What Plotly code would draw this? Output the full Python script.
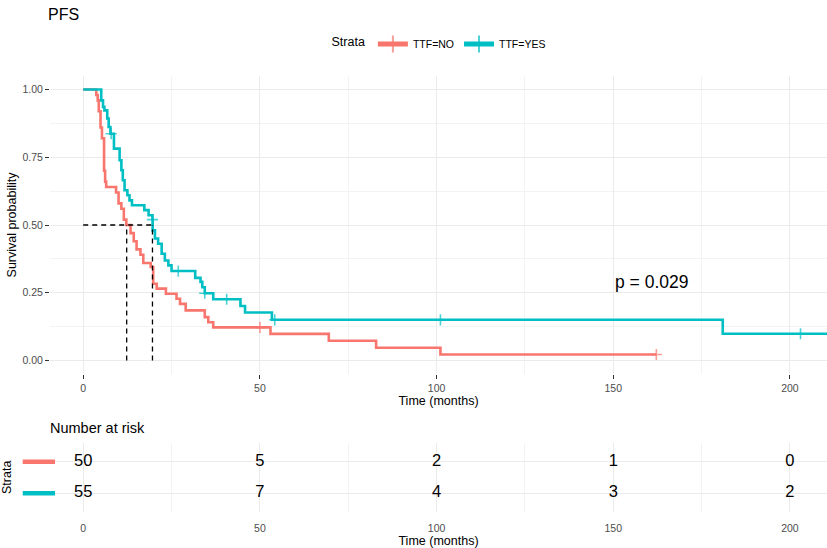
import plotly.graph_objects as go

# Kaplan-Meier curves (time in months, survival after each step)
no_time = [0, 3.7, 4.1, 4.4, 4.9, 5.3, 5.9, 6.2, 6.5, 9.3, 10.0, 10.8, 11.5, 12.2,
           13.4, 14.3, 15.1, 16.2, 17.0, 19.1, 19.8, 20.8, 23.4, 26.4, 27.4, 29.0,
           34.4, 35.4, 36.8, 50.0, 53.0, 69.5, 82.9, 101.1, 162.2]
no_surv = [1.0, 0.98, 0.96, 0.92, 0.86, 0.82, 0.70, 0.66, 0.64, 0.62, 0.58, 0.56, 0.52, 0.50,
           0.47, 0.44, 0.41, 0.39, 0.36, 0.345, 0.283, 0.265, 0.246, 0.228, 0.209, 0.185,
           0.16, 0.141, 0.122, 0.122, 0.098, 0.073, 0.047, 0.022, 0.022]
no_censor = [50.0, 162.2]

yes_time = [0, 5.1, 5.6, 6.0, 6.8, 7.2, 7.7, 7.9, 8.7, 10.3, 10.8, 11.2, 11.7, 12.5,
            13.1, 13.8, 17.3, 18.5, 19.6, 19.65, 20.3, 21.2, 22.2, 23.1, 24.1, 25.0,
            26.9, 31.7, 33.2, 33.7, 34.4, 36.8, 40.6, 44.5, 45.8, 53.4, 54.2, 101.1,
            181.0, 203.0, 212.0]
yes_surv = [1.0, 0.96, 0.936, 0.923, 0.893, 0.862, 0.837, 0.837, 0.782, 0.739, 0.702, 0.665,
            0.628, 0.61, 0.591, 0.573, 0.555, 0.536, 0.52, 0.48, 0.45, 0.431, 0.394, 0.369,
            0.351, 0.33, 0.33, 0.305, 0.29, 0.27, 0.248, 0.226, 0.226, 0.201, 0.177, 0.15,
            0.15, 0.15, 0.0985, 0.0985, 0.0985]
yes_censor = [7.9, 19.6, 26.9, 34.4, 40.6, 54.2, 101.1, 203.0]

medians = [12.3, 19.6]
p_label = "p = 0.029"

# number at risk table
risk_times = [0, 50, 100, 150, 200]
risk_no = [50, 5, 2, 1, 0]
risk_yes = [55, 7, 4, 3, 2]

strata = ["TTF=NO", "TTF=YES"]
colors = ["#F8766D", "#00BFC4"]

FONT = "Liberation Sans"
W, H = 827, 548

fig = go.Figure()

curves = [(no_time, no_surv, no_censor), (yes_time, yes_surv, yes_censor)]
for name, color, (t, s, cens) in zip(strata, colors, curves):
    sizes = [8 if ti in cens else 0 for ti in t]
    fig.add_trace(go.Scatter(
        x=t, y=s, name=name, mode="lines+markers",
        line=dict(color=color, width=2.6, shape="hv"),
        marker=dict(symbol="cross-thin", size=sizes, color=color,
                    line=dict(color=color, width=1.6)),
        xaxis="x", yaxis="y", hoverinfo="skip",
    ))

# median lines
mx, my = [0, max(medians)], [0.5, 0.5]
for m in medians:
    mx += [None, m, m]
    my += [None, 0, 0.5]
fig.add_trace(go.Scatter(
    x=mx, y=my, mode="lines", showlegend=False,
    line=dict(color="black", width=1.3, dash="5px,4px"),
    xaxis="x", yaxis="y", hoverinfo="skip",
))

# risk table
for row, counts in zip([2, 1], [risk_no, risk_yes]):
    fig.add_trace(go.Scatter(
        x=risk_times, y=[row] * len(risk_times), mode="text",
        text=[str(c) for c in counts], textposition="middle center",
        textfont=dict(size=16.5, color="black", family=FONT),
        showlegend=False, cliponaxis=False, xaxis="x2", yaxis="y2", hoverinfo="skip",
    ))

xr = [-9.4, 210.5]
grid = dict(showgrid=True, gridcolor="#EBEBEB", gridwidth=1.1, zeroline=False,
            showline=False, automargin=False)
minor_x = dict(dtick=25, showgrid=True, gridcolor="#F3F3F3", gridwidth=0.6, ticks="")
tick_font = dict(size=10.5, color="#4D4D4D")

fig.update_layout(
    width=W, height=H,
    margin=dict(l=0, r=0, t=0, b=0),
    paper_bgcolor="white", plot_bgcolor="white",
    font=dict(family=FONT, color="black"),
    title=dict(text="PFS", x=48 / W, xanchor="left", y=1 - 14 / H, yanchor="middle",
               font=dict(size=16, family=FONT), automargin=False),
    xaxis=dict(domain=[50 / W, 1], range=xr, tickvals=risk_times, anchor="y",
               ticks="outside", ticklen=4, tickcolor="#333333", tickwidth=1,
               tickfont=tick_font,
               title=dict(text="Time (months)", font=dict(size=12.5), standoff=2),
               minor=minor_x, **grid),
    yaxis=dict(domain=[1 - 374 / H, 1 - 76 / H], range=[-0.05, 1.05],
               tickvals=[0, 0.25, 0.5, 0.75, 1.0],
               ticktext=["0.00", "0.25", "0.50", "0.75", "1.00"],
               ticks="outside", ticklen=4, tickcolor="#333333", tickwidth=1,
               tickfont=tick_font,
               title=dict(text="Survival probability", font=dict(size=12.5), standoff=3),
               minor=dict(dtick=0.125, showgrid=True, gridcolor="#F3F3F3", gridwidth=0.6, ticks=""),
               anchor="x", **grid),
    xaxis2=dict(domain=[50 / W, 1], range=xr, tickvals=risk_times, anchor="y2",
                ticks="", tickfont=tick_font,
                ticklabelstandoff=8,
                title=dict(text="Time (months)", font=dict(size=12.5), standoff=1),
                minor=minor_x, **grid),
    yaxis2=dict(domain=[1 - 512 / H, 1 - 443 / H], range=[0.4, 2.6],
                tickvals=[1, 2], showticklabels=False, ticks="", anchor="x2", **grid),
    legend=dict(orientation="h", x=440 / W, xanchor="center", y=1 - 44 / H, yanchor="middle",
                title=dict(text="Strata", font=dict(size=12.5)), font=dict(size=10.5),
                itemsizing="constant", itemwidth=30, bgcolor="rgba(0,0,0,0)"),
    annotations=[
        dict(text=p_label, x=150, y=0.29, xref="x", yref="y", xanchor="left",
             yanchor="middle", showarrow=False, font=dict(size=17.5)),
        dict(text="Number at risk", x=48 / W, y=1 - 428 / H, xref="paper", yref="paper",
             xanchor="left", yanchor="middle", showarrow=False, font=dict(size=14.5)),
        dict(text="Strata", x=7 / W, y=1 - 478 / H, xref="paper", yref="paper",
             textangle=-90, xanchor="center", yanchor="middle", showarrow=False,
             font=dict(size=12.5)),
    ],
    shapes=[
        dict(type="line", xref="paper", yref="y2", x0=22.7 / W, x1=55 / W, y0=row, y1=row,
             line=dict(color=c, width=4.5))
        for row, c in zip([2, 1], colors)
    ],
)

# the page's default body margin would shift the figure by 8px
fig.write_html("out.html", config={"displayModeBar": False},
               post_script="document.body.style.margin='0';")
